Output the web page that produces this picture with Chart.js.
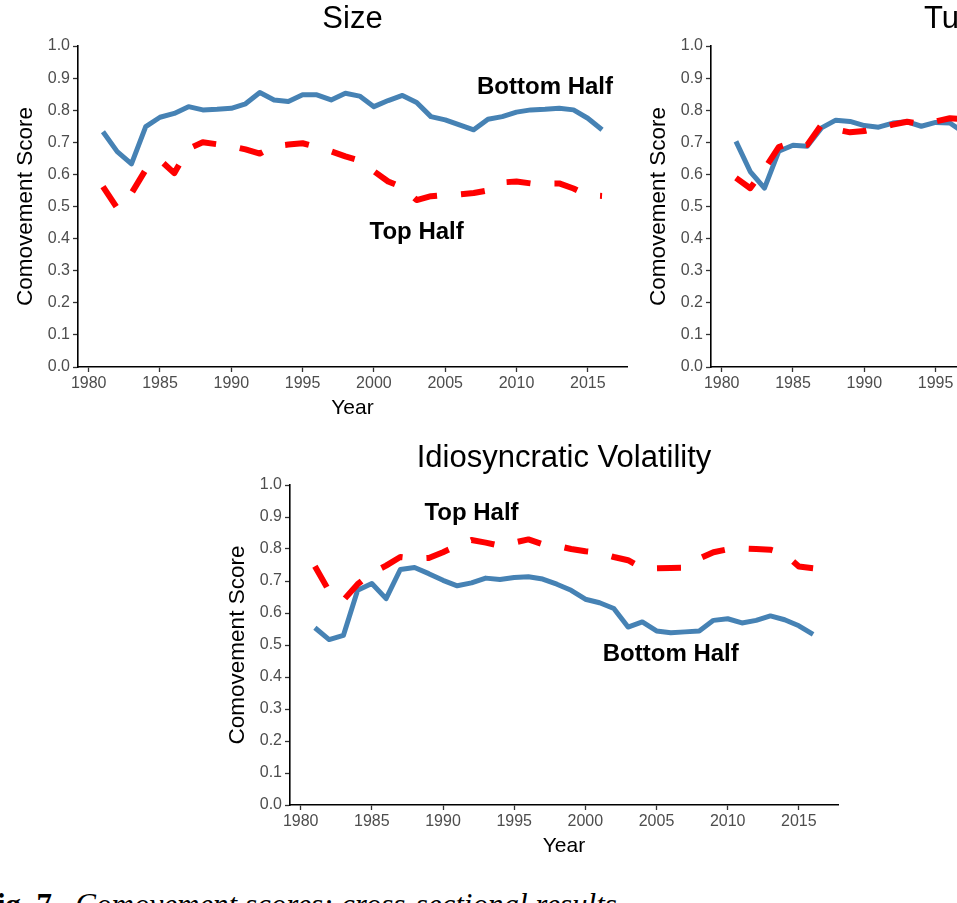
<!DOCTYPE html>
<html><head><meta charset="utf-8">
<script src="https://cdn.jsdelivr.net/npm/chart.js@4.4.0/dist/chart.umd.min.js"></script>
<style>
html,body{margin:0;padding:0;background:#fff;width:957px;height:903px;overflow:hidden;position:relative;}
.box{position:absolute;}
#cap{position:absolute;left:-22px;top:889px;font-family:"Liberation Serif",serif;font-size:31px;line-height:31px;white-space:nowrap;color:#000;}
</style></head><body>
<div class="box" style="left:0;top:0"><canvas id="c1" width="640" height="425"></canvas></div>
<div class="box" style="left:633px;top:0"><canvas id="c2" width="640" height="425"></canvas></div>
<div class="box" style="left:212px;top:439px"><canvas id="c3" width="639" height="424"></canvas></div>
<div id="cap"><b>Fig. 7.</b>&nbsp; <i>Comovement scores: cross-sectional results.</i></div>
<script>
const years = [1981,1982,1983,1984,1985,1986,1987,1988,1989,1990,1991,1992,1993,1994,1995,1996,1997,1998,1999,2000,2001,2002,2003,2004,2005,2006,2007,2008,2009,2010,2011,2012,2013,2014,2015,2016];
const xTicks = [1980,1985,1990,1995,2000,2005,2010,2015];
const yTicks = [0,0.1,0.2,0.3,0.4,0.5,0.6,0.7,0.8,0.9,1.0];

const sizeBottom = [0.733,0.671,0.633,0.749,0.778,0.790,0.811,0.801,0.803,0.806,0.820,0.855,0.832,0.827,0.848,0.848,0.832,0.853,0.844,0.811,0.830,0.846,0.824,0.780,0.770,0.754,0.739,0.772,0.780,0.794,0.801,0.803,0.806,0.801,0.775,0.739];
const sizeTop = [0.562,0.495,0.541,0.615,0.645,0.604,0.680,0.700,0.694,0.688,0.678,0.665,0.688,0.693,0.697,0.685,0.672,0.656,0.643,0.610,0.578,0.560,0.520,0.532,0.536,0.538,0.542,0.550,0.575,0.578,0.572,0.572,0.572,0.556,0.535,0.533];

const turnYears = [1981,1982,1983,1984,1985,1986,1987,1988,1989,1990,1991,1992,1993,1994,1995,1996,1997];
const turnBottom = [0.703,0.609,0.557,0.672,0.691,0.688,0.745,0.769,0.765,0.752,0.747,0.760,0.764,0.750,0.762,0.760,0.730];
const turnTop = [0.589,0.557,0.617,0.685,0.700,0.692,0.755,0.740,0.731,0.735,0.745,0.755,0.764,0.757,0.765,0.775,0.772];

const ivBottom = [0.554,0.517,0.530,0.671,0.692,0.645,0.736,0.742,0.723,0.702,0.685,0.694,0.709,0.705,0.711,0.713,0.706,0.690,0.671,0.643,0.632,0.614,0.556,0.572,0.544,0.538,0.541,0.544,0.577,0.582,0.569,0.577,0.591,0.579,0.560,0.533];
const ivTop = [0.746,0.668,0.640,0.690,0.725,0.748,0.775,0.770,0.772,0.790,0.810,0.828,0.820,0.810,0.820,0.830,0.815,0.810,0.800,0.793,0.788,0.775,0.765,0.740,0.740,0.741,0.742,0.770,0.790,0.799,0.802,0.800,0.798,0.785,0.745,0.740];

const titles = ['Size','Turnover','Idiosyncratic Volatility'];
const sizeLabels = [{text:'Bottom Half',x:2012,y:0.87},{text:'Top Half',x:2003,y:0.42}];
const ivLabels = [{text:'Top Half',x:1992,y:0.91},{text:'Bottom Half',x:2006,y:0.47}];

const FAM = '"Liberation Sans", Arial, sans-serif';
const toXY = (xs, vs) => vs.map((v,i)=>({x:xs[i], y:v}));

const annotPlugin = {
  id:'annot',
  afterDraw(chart, args, opts){
    const {ctx, chartArea:a, scales:{x,y}} = chart;
    ctx.save();
    ctx.fillStyle = '#000';
    ctx.textAlign = 'center';
    ctx.textBaseline = 'alphabetic';
    ctx.font = '31px ' + FAM;
    ctx.fillText(opts.title, (a.left+a.right)/2, a.top-18);
    ctx.font = 'bold 24px ' + FAM;
    ctx.textBaseline = 'middle';
    (opts.labels||[]).forEach(l => ctx.fillText(l.text, x.getPixelForValue(l.x), y.getPixelForValue(l.y)));
    ctx.restore();
  }
};

function makeChart(id, xs, top, bottom, title, labels){
  const axisCommon = {
    grid:{display:true, drawOnChartArea:false, drawTicks:true, tickLength:5, tickColor:'#333', tickWidth:1.3},
    border:{display:true, color:'#000', width:1.6}
  };
  return new Chart(document.getElementById(id), {
    type:'line',
    data:{datasets:[
      {label:'Top Half', data:toXY(xs, top), borderColor:'#FF0000', borderWidth:6, borderDash:[24,24], borderCapStyle:'butt', borderJoinStyle:'round', pointRadius:0, fill:false, tension:0},
      {label:'Bottom Half', data:toXY(xs, bottom), borderColor:'#4682B4', borderWidth:5, borderCapStyle:'butt', borderJoinStyle:'round', pointRadius:0, fill:false, tension:0}
    ]},
    options:{
      responsive:false, animation:false, events:[],
      layout:{padding:{top:46,left:0,right:13,bottom:0}},
      plugins:{legend:{display:false}, tooltip:{enabled:false}, annot:{title:title, labels:labels}},
      scales:{
        x:Object.assign({type:'linear', min:1979.25, max:2017.75,
          afterBuildTicks:a=>{a.ticks = xTicks.map(v=>({value:v}));},
          afterFit:a=>{a.height = 58;},
          ticks:{color:'#4d4d4d', font:{family:FAM, size:16}, padding:2, maxRotation:0, autoSkip:false, callback:v=>String(v)},
          title:{display:true, text:'Year', color:'#000', font:{family:FAM, size:21}, padding:{top:0,bottom:4}}
        }, axisCommon),
        y:Object.assign({type:'linear', min:0, max:1,
          afterBuildTicks:a=>{a.ticks = yTicks.map(v=>({value:v}));},
          afterFit:a=>{a.width = 78;},
          ticks:{color:'#4d4d4d', font:{family:FAM, size:16}, padding:3, callback:v=>Number(v).toFixed(1)},
          title:{display:true, text:'Comovement Score', color:'#000', font:{family:FAM, size:22.5}, padding:{top:12,bottom:0}}
        }, axisCommon)
      }
    },
    plugins:[annotPlugin]
  });
}

makeChart('c1', years, sizeTop, sizeBottom, titles[0], sizeLabels);
makeChart('c2', turnYears, turnTop, turnBottom, titles[1], []);
makeChart('c3', years, ivTop, ivBottom, titles[2], ivLabels);
</script>
</body></html>
